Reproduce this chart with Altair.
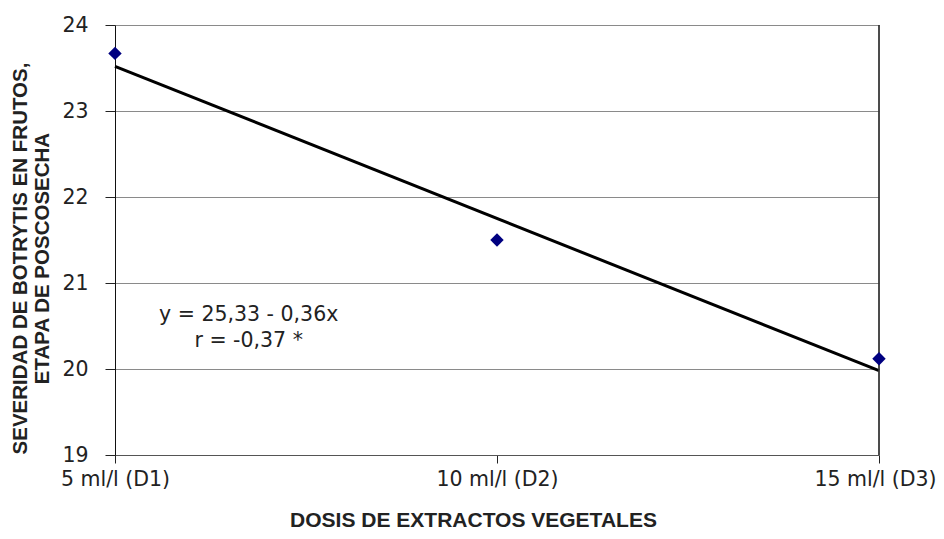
import altair as alt
import pandas as pd

# Data
dose = [5, 10, 15]
severity = [23.67, 21.5, 20.12]
x_labels = ["5 ml/l (D1)", "10 ml/l (D2)", "15 ml/l (D3)"]
fit_x = [5, 15]
fit_y = [23.52, 19.98]
y_ticks = [19, 20, 21, 22, 23, 24]
eq_lines = ["y = 25,33 - 0,36x", "r = -0,37 *"]
eq_x = [6.75, 6.75]
eq_y = [20.63, 20.32]

pts = pd.DataFrame({"dose": dose, "sev": severity})
fit = pd.DataFrame({"dose": fit_x, "sev": fit_y})
eq = pd.DataFrame({"dose": eq_x, "sev": eq_y, "txt": eq_lines})

label_expr = " : ".join(
    f"datum.value == {d} ? '{l}'" for d, l in zip(dose, x_labels)
) + " : ''"

x_scale = alt.Scale(domain=[5, 15], nice=False, zero=False)
y_scale = alt.Scale(domain=[19, 24], nice=False, zero=False)

x_axis = alt.Axis(
    values=dose, labelExpr=label_expr, grid=False,
    title="DOSIS DE EXTRACTOS VEGETALES",
    titleFont="Liberation Sans", titleFontSize=21, titleFontWeight="bold",
    titleColor="#222", titleX=358, titleY=65, titleBaseline="middle",
    labelFont="DejaVu Sans", labelFontSize=20.5, labelColor="#222",
    labelPadding=6, tickSize=8, tickColor="#222", domainColor="#555",
    labelFlush=False, labelOverlap=False,
    labelOffset={"condition": {"test": f"datum.value == {dose[-1]}", "value": -4}, "value": 0},
)
y_axis = alt.Axis(
    values=y_ticks, format="d", grid=True, gridColor="#8a8a8a", gridWidth=1,
    title=["SEVERIDAD DE BOTRYTIS EN FRUTOS,", "ETAPA DE POSCOSECHA"],
    titleFont="Liberation Sans", titleFontSize=20.5, titleFontWeight="bold",
    titleColor="#222", titleAngle=-90, titleX=-105, titleY=233,
    titleBaseline="top", titleAlign="center", titleLineHeight=22,
    labelFont="DejaVu Sans", labelFontSize=20.5, labelColor="#222",
    labelPadding=17, tickSize=10, tickColor="#222", domainColor="#111",
)

base_x = alt.X("dose:Q", scale=x_scale, axis=x_axis)
base_y = alt.Y("sev:Q", scale=y_scale, axis=y_axis)

border = alt.Chart(pts).mark_rule(color="#333", strokeWidth=1).encode(
    x=alt.datum(15, scale=x_scale)
)

line = alt.Chart(fit).mark_line(color="black", strokeWidth=3).encode(
    x=base_x, y=base_y
)

points = alt.Chart(pts).mark_point(
    shape="diamond", filled=True, color="#000080", size=180, opacity=1
).encode(x=alt.X("dose:Q", scale=x_scale), y=alt.Y("sev:Q", scale=y_scale))

text = alt.Chart(eq).mark_text(
    font="DejaVu Sans", fontSize=20.5, color="#222", align="center", baseline="middle"
).encode(
    x=alt.X("dose:Q", scale=x_scale), y=alt.Y("sev:Q", scale=y_scale), text="txt:N"
)

chart = alt.layer(line, border, points, text).properties(
    width=764, height=430,
    autosize=alt.AutoSizeParams(type="none"),
    padding={"left": 107, "top": 17, "right": 57, "bottom": 80},
    background="white",
).configure_view(stroke=None)

chart.save("out.html", embed_options={"renderer": "svg", "actions": False})
